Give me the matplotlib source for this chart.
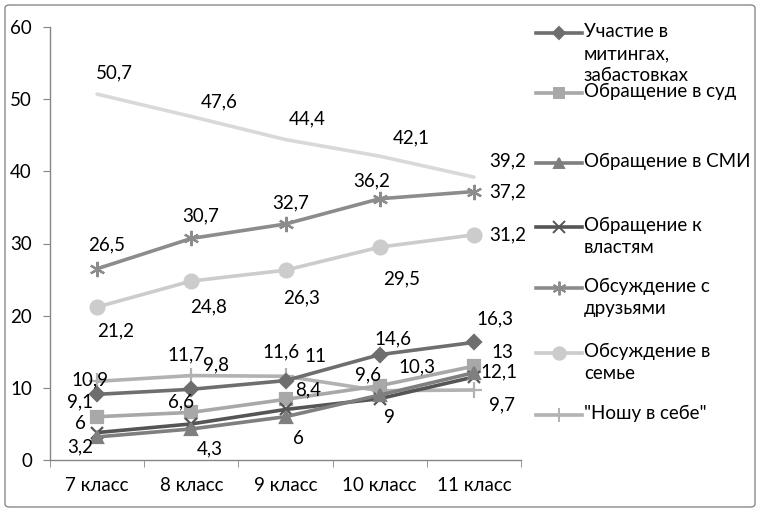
import matplotlib.pyplot as plt
from matplotlib.lines import Line2D
from matplotlib.patches import FancyBboxPatch

plt.rcParams['font.family'] = ['Lato', 'DejaVu Sans']
FS = 13.5

grades = ['7 класс', '8 класс', '9 класс', '10 класс', '11 класс']

top_line = [50.7, 47.6, 44.4, 42.1, 39.2]
rallies = [9.1, 9.8, 11, 14.6, 16.3]
court = [6, 6.6, 8.4, 10.3, 13]
media = [3.2, 4.3, 6, 9, 12.1]
authorities = [3.8, 5.0, 7.0, 8.5, 11.5]
friends = [26.5, 30.7, 32.7, 36.2, 37.2]
family = [21.2, 24.8, 26.3, 29.5, 31.2]
keep_inside = [10.9, 11.7, 11.6, 9.6, 9.7]

# (values, legend label, color, marker, marker size, show labels)
series = [
    (top_line, None, '#d9d9d9', None, 0, True),
    (friends, 'Обсуждение с\nдрузьями', '#8c8c8c', (6, 2, 0), 11, True),
    (family, 'Обсуждение в\nсемье', '#cccccc', 'o', 10, True),
    (keep_inside, '"Ношу в себе"', '#b2b2b2', '+', 11, True),
    (rallies, 'Участие в\nмитингах,\nзабастовках', '#6e6e6e', 'D', 7, True),
    (court, 'Обращение в суд', '#a8a8a8', 's', 8, True),
    (authorities, 'Обращение к\nвластям', '#555555', 'x', 9, False),
    (media, 'Обращение в СМИ', '#7f7f7f', '^', 8, True),
]

# label offsets in pixels (dx, dy)
offsets = {
    id(top_line): [(17, 21), (28, 15), (22, 21), (32, 18), (34, 16)],
    id(friends): [(10, 24), (9, 23), (5, 21), (-8, 18), (34, 0)],
    id(family): [(19, -24), (17, -26), (16, -28), (22, -32), (34, 0)],
    id(rallies): [(-17, -8), (25, 24), (30, 24), (13, 16), (21, 23)],
    id(court): [(-17, -7), (-10, 10), (23, 10), (37, 19), (28, 14)],
    id(media): [(-17, -10), (18, -20), (13, -22), (10, -22), (25, 1)],
    id(keep_inside): [(-7, 1), (-5, 21), (-4, 24), (-12, 16), (28, -15)],
}

W, H = 760, 512
fig = plt.figure(figsize=(W / 100, H / 100), dpi=100)
ax = fig.add_axes([50 / W, 1 - 460 / H, 471 / W, 433 / H])

x = list(range(len(grades)))
for vals, label, color, marker, ms, show in series:
    ax.plot(x, vals, color=color, lw=2.6, marker=marker, ms=ms,
            mew=1.6, mec=color, mfc=color, solid_capstyle='round', zorder=3)
    if show:
        for i, v in enumerate(vals):
            dx, dy = offsets[id(vals)][i]
            ax.annotate(str(v).replace('.', ','), (i, v), xytext=(dx, dy),
                        textcoords='offset pixels', ha='center', va='center',
                        fontsize=FS, color='#000000', zorder=4)

ax.set_xlim(-0.5, len(grades) - 0.5)
ax.set_ylim(0, 60)
ax.set_yticks(range(0, 61, 10))
ax.set_xticks(x)
ax.set_xticklabels(grades)
ax.set_xticks([i - 0.5 for i in range(len(grades) + 1)], minor=True)
ax.tick_params(axis='x', which='major', length=0, pad=12, labelsize=FS)
ax.tick_params(axis='x', which='minor', length=5, color='#868686')
ax.tick_params(axis='y', length=5, color='#868686', labelsize=FS, pad=8)
for s in ['top', 'right']:
    ax.spines[s].set_visible(False)
for s in ['left', 'bottom']:
    ax.spines[s].set_color('#868686')
    ax.spines[s].set_linewidth(1)

# legend drawn by hand to keep the handle on the first text line
legend_y = [33, 93, 163, 227, 288, 353, 415]
legend_order = [rallies, court, media, authorities, friends, family, keep_inside]
style = {id(s[0]): s for s in series}
for y, vals in zip(legend_y, legend_order):
    _, label, color, marker, ms, _ = style[id(vals)]
    fy = 1 - y / H
    fig.add_artist(Line2D([536 / W, 582 / W], [fy, fy], color=color, lw=2.6))
    fig.add_artist(Line2D([559 / W], [fy], color=color, marker=marker,
                          ms=ms * 0.9, mew=1.4, mec=color, mfc=color))
    fig.text(584 / W, fy + 10 / H, label, ha='left', va='top', fontsize=FS,
             linespacing=1.36)

fig.add_artist(FancyBboxPatch((5 / W, 5 / H), 750 / W, 502 / H,
                              boxstyle='round,pad=0,rounding_size=0.006',
                              transform=fig.transFigure, fill=False,
                              edgecolor='#8a8a8a', lw=1))

fig.savefig('out.png', dpi=100)
